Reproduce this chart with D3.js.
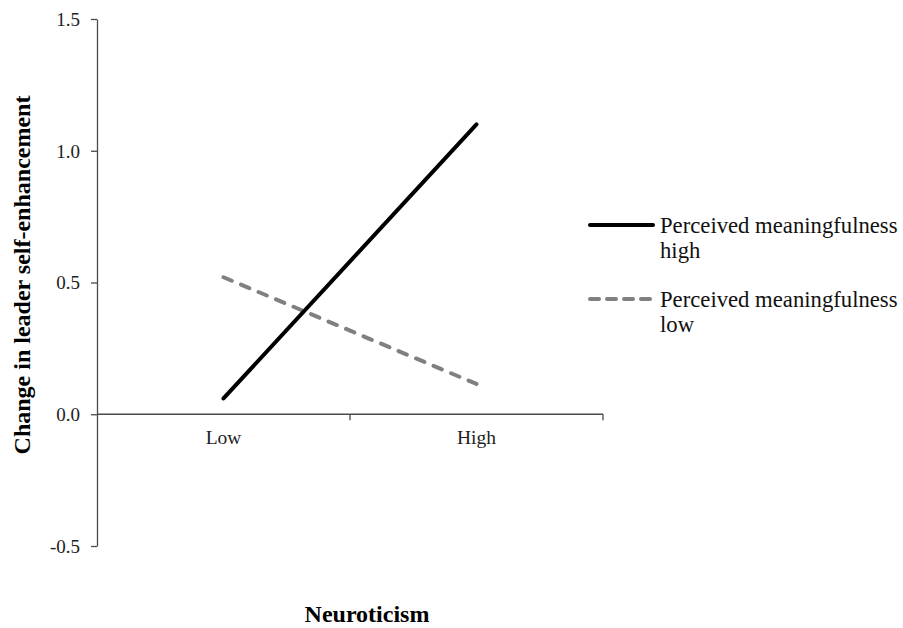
<!DOCTYPE html>
<html>
<head>
<meta charset="utf-8">
<script src="https://cdn.jsdelivr.net/npm/d3@7"></script>
<style>
html,body{margin:0;padding:0;background:#fff;}
svg{display:block;}
text{font-family:"Liberation Serif","Times New Roman",serif;}
</style>
</head>
<body>
<svg id="chart" width="903" height="628"></svg>
<script>
const categories = ["Low", "High"];
const seriesNames = ["Perceived meaningfulness high", "Perceived meaningfulness low"];
const highValues = [0.06, 1.10];
const lowValues = [0.52, 0.115];
const yTicks = [-0.5, 0.0, 0.5, 1.0, 1.5];

(function() {
const svg = d3.select("#chart");
const mLeft = 97, mRight = 603, mTop = 19, mBottom = 546;

const x = d3.scaleBand().domain(categories).range([mLeft, mRight]);
const y = d3.scaleLinear().domain([-0.5, 1.5]).range([mBottom, mTop]);

const axisColor = "#4a4a4a";
const fmt = d => d.toFixed(1);

// Y axis
const yAxis = svg.append("g").attr("transform", `translate(${mLeft},0)`)
  .call(d3.axisLeft(y).tickValues(yTicks).tickFormat(fmt).tickSize(6).tickSizeOuter(0));
yAxis.select(".domain").attr("stroke", axisColor).attr("stroke-width", 1.3);
yAxis.selectAll(".tick line").attr("stroke", axisColor).attr("stroke-width", 1.3);
yAxis.selectAll(".tick text").style("font-size", "19px").attr("fill", "#222")
  .attr("x", -17).attr("dy", "0.34em");

// X axis at y=0
const y0 = y(0);
svg.append("line").attr("x1", mLeft).attr("x2", mRight).attr("y1", y0).attr("y2", y0)
  .attr("stroke", axisColor).attr("stroke-width", 1.3);
const boundaries = categories.map(c => x(c) + x.bandwidth());
svg.selectAll(".xtick").data(boundaries).enter().append("line")
  .attr("x1", d => d).attr("x2", d => d).attr("y1", y0).attr("y2", y0 + 6)
  .attr("stroke", axisColor).attr("stroke-width", 1.3);
svg.selectAll(".xlab").data(categories).enter().append("text")
  .attr("x", d => x(d) + x.bandwidth() / 2).attr("y", y0 + 30)
  .attr("text-anchor", "middle").style("font-size", "19.5px").attr("fill", "#222")
  .text(d => d);

// Lines
const line = d3.line().x((d, i) => x(categories[i]) + x.bandwidth() / 2).y(d => y(d));
svg.append("path").datum(lowValues).attr("d", line).attr("fill", "none")
  .attr("stroke", "#808080").attr("stroke-width", 4).attr("stroke-dasharray", "9,10")
  .attr("stroke-linecap", "round");
svg.append("path").datum(highValues).attr("d", line).attr("fill", "none")
  .attr("stroke", "#000").attr("stroke-width", 4).attr("stroke-linecap", "round");

// Legend
const legendItems = [
  {name: seriesNames[0], lines: ["Perceived meaningfulness", "high"], color: "#000", dash: null, y: 225},
  {name: seriesNames[1], lines: ["Perceived meaningfulness", "low"], color: "#808080", dash: "9,8", y: 299}
];
const lg = svg.selectAll(".leg").data(legendItems).enter().append("g");
lg.append("line").attr("x1", 590).attr("x2", 653).attr("y1", d => d.y).attr("y2", d => d.y)
  .attr("stroke", d => d.color).attr("stroke-width", 4).attr("stroke-dasharray", d => d.dash)
  .attr("stroke-linecap", "round");
lg.each(function(d) {
  const t = d3.select(this).append("text").attr("x", 660).attr("y", d.y + 8)
    .style("font-size", "22.7px").attr("fill", "#111");
  d.lines.forEach((l, i) => t.append("tspan").attr("x", 660).attr("dy", i === 0 ? 0 : 25).text(l));
});

// Axis titles
svg.append("text").attr("x", 367).attr("y", 622)
  .attr("text-anchor", "middle").style("font-size", "24px").attr("font-weight", "bold").attr("fill", "#000")
  .text("Neuroticism");
svg.append("text").attr("transform", `translate(30,275) rotate(-90)`)
  .attr("text-anchor", "middle").style("font-size", "24px").attr("font-weight", "bold").attr("fill", "#000")
  .text("Change in leader self-enhancement");
})();
</script>
</body>
</html>
